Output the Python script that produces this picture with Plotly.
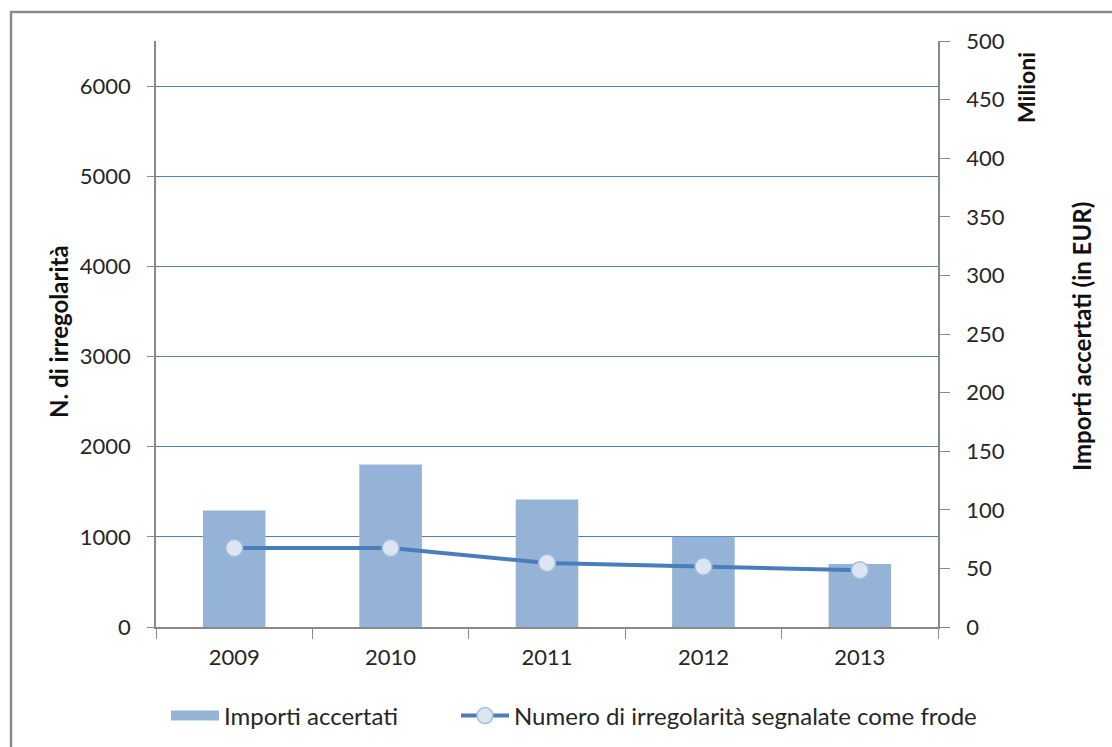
import plotly.graph_objects as go

years = ["2009", "2010", "2011", "2012", "2013"]
importi_milioni = [99.5, 138.6, 108.7, 77.0, 53.8]
num_frodi = [876, 876, 710, 670, 629]
left_ticks = [0, 1000, 2000, 3000, 4000, 5000, 6000]
right_ticks = [0, 50, 100, 150, 200, 250, 300, 350, 400, 450, 500]

W, H = 1112, 747
L, R, T, B = 156, 938, 41, 627

def px(x):
    return (x - L) / (R - L)

def py(y):
    return (B - y) / (B - T)

font_family = "Lato, 'Open Sans', sans-serif"
axis_grey = "#898989"
bar_color = "#95B3D7"

fig = go.Figure()
fig.add_trace(go.Bar(
    x=years, y=importi_milioni, name="Importi accertati", yaxis="y",
    marker=dict(color=bar_color, line=dict(width=0)), showlegend=False,
))
# legend swatch for the bars (wide rectangle, like the original)
fig.add_trace(go.Scatter(
    x=[None], y=[None], name="Importi accertati", mode="lines", yaxis="y",
    line=dict(color=bar_color, width=15), legend="legend", hoverinfo="skip",
))
fig.add_trace(go.Scatter(
    x=years, y=num_frodi, name="Numero di irregolarità segnalate come frode",
    mode="lines+markers", yaxis="y2", legend="legend2",
    line=dict(color="#4A7EBB", width=4),
    marker=dict(size=17, color="#DCE6F2", line=dict(color="#A6BCDB", width=1.5)),
))

legend_common = dict(orientation="h", y=py(716), xanchor="left", yanchor="middle",
                     font=dict(size=24, color="#262626"), bgcolor="rgba(0,0,0,0)",
                     itemwidth=48)

fig.update_layout(
    width=W, height=H,
    margin=dict(l=L, r=W - R, t=T, b=H - B, autoexpand=False),
    paper_bgcolor="white", plot_bgcolor="white",
    font=dict(family=font_family, size=22, color="#262626"),
    bargap=0.6,
    showlegend=True,
    legend=dict(x=px(166), **legend_common),
    legend2=dict(x=px(456), **legend_common),
    xaxis=dict(
        type="category", showline=True, linecolor=axis_grey, linewidth=1.5,
        ticks="outside", ticklen=10, tickcolor=axis_grey, tickson="boundaries",
        showgrid=False, tickfont=dict(size=22), ticklabelstandoff=10,
    ),
    # bars: right axis (Milioni EUR)
    yaxis=dict(
        range=[0, 500], tickvals=right_ticks, side="right",
        showline=True, linecolor=axis_grey, linewidth=1.5, ticks="outside",
        ticklen=10, tickcolor=axis_grey, showgrid=False, zeroline=False,
        tickfont=dict(size=22), ticklabelstandoff=12,
    ),
    # line: left axis (number of irregularities), with gridlines
    yaxis2=dict(
        range=[0, 6500], tickvals=left_ticks, overlaying="y", side="left",
        showline=True, linecolor=axis_grey, linewidth=1.5, ticks="outside",
        ticklen=7, tickcolor=axis_grey,
        showgrid=True, gridcolor="#4F81BD", gridwidth=1, zeroline=False,
        tickfont=dict(size=22), ticklabelstandoff=12,
    ),
)

fig.add_annotation(text="<b>N. di irregolarità</b>", xref="paper", yref="paper",
                   x=px(59), y=py(332), textangle=-90, showarrow=False,
                   font=dict(size=24, color="#111111"), xanchor="center", yanchor="middle")
fig.add_annotation(text="<b>Importi accertati (in EUR)</b>", xref="paper", yref="paper",
                   x=px(1081), y=py(337), textangle=-90, showarrow=False,
                   font=dict(size=24, color="#111111"), xanchor="center", yanchor="middle")
fig.add_annotation(text="<b>Milioni</b>", xref="paper", yref="paper",
                   x=px(1026), y=py(88), textangle=-90, showarrow=False,
                   font=dict(size=23, color="#111111"), xanchor="center", yanchor="middle")

fig.add_shape(type="rect", xref="paper", yref="paper",
              x0=px(11), x1=px(1130), y0=py(12), y1=py(770),
              line=dict(color="#8C8C8C", width=2.5), fillcolor="rgba(0,0,0,0)", layer="below")

fig.write_html("out.html", config={"displayModeBar": False},
               post_script="document.body.style.margin='0';")
